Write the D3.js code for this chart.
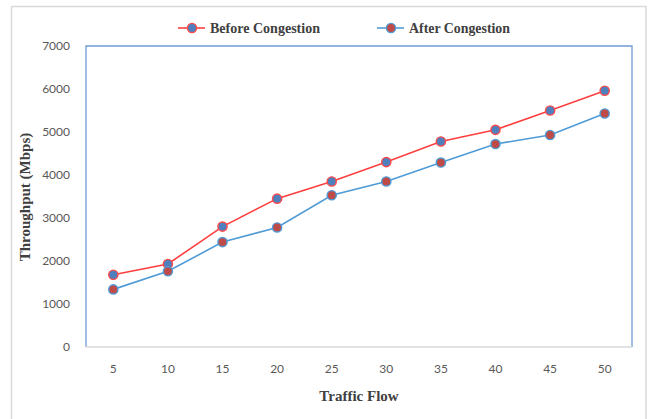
<!DOCTYPE html>
<html>
<head>
<meta charset="utf-8">
<script src="https://cdn.jsdelivr.net/npm/d3@7/dist/d3.min.js"></script>
<style>
  html, body { margin: 0; padding: 0; background: #fff; }
  svg { display: block; }
</style>
</head>
<body>
<svg id="chart" width="649" height="419"></svg>
<script>
const categories = ["5", "10", "15", "20", "25", "30", "35", "40", "45", "50"];
const beforeValues = [1680, 1930, 2800, 3450, 3850, 4300, 4780, 5050, 5500, 5960];
const afterValues = [1340, 1760, 2440, 2780, 3530, 3850, 4290, 4720, 4930, 5430];
const yTicks = [0, 1000, 2000, 3000, 4000, 5000, 6000, 7000];
const seriesNames = ["Before Congestion", "After Congestion"];

const svg = d3.select("#chart");
const W = 649, H = 419;
const plot = { left: 86, top: 46, right: 632, bottom: 347 };

// outer chart frame
svg.append("rect")
  .attr("x", 11.5).attr("y", 6.5)
  .attr("width", 634.5).attr("height", 430)
  .attr("fill", "#fff").attr("stroke", "#d9d9d9").attr("stroke-width", 1.5);

const x = d3.scaleBand().domain(categories).range([plot.left, plot.right]);
const y = d3.scaleLinear().domain([0, 7000]).range([plot.bottom, plot.top]);

// plot border: blue left/top/right, gray bottom
const g = svg.append("g");
g.append("path")
  .attr("d", `M${plot.left},${plot.bottom} V${plot.top} H${plot.right} V${plot.bottom}`)
  .attr("fill", "none").attr("stroke", "#6f9bd4").attr("stroke-width", 1.3);
g.append("line")
  .attr("x1", plot.left).attr("x2", plot.right)
  .attr("y1", plot.bottom).attr("y2", plot.bottom)
  .attr("stroke", "#d9d9d9").attr("stroke-width", 1.5);

// y axis labels
const yAxis = d3.axisLeft(y).tickValues(yTicks).tickSize(0).tickPadding(16).tickFormat(d3.format("d"));
svg.append("g").attr("transform", `translate(${plot.left},0)`).call(yAxis)
  .call(s => s.select(".domain").remove())
  .selectAll("text")
  .attr("font-family", "Lato, 'Open Sans', sans-serif")
  .attr("font-size", 12).attr("fill", "#595959");

// x axis labels
const xAxis = d3.axisBottom(x).tickSize(0).tickPadding(17);
svg.append("g").attr("transform", `translate(0,${plot.bottom})`).call(xAxis)
  .call(s => s.select(".domain").remove())
  .selectAll("text")
  .attr("font-family", "Lato, 'Open Sans', sans-serif")
  .attr("font-size", 12).attr("fill", "#595959");

// axis titles
svg.append("text")
  .attr("x", (plot.left + plot.right) / 2).attr("y", 401)
  .attr("text-anchor", "middle")
  .attr("font-family", "'Liberation Serif', 'Times New Roman', serif")
  .attr("font-weight", "bold").attr("font-size", 15).attr("fill", "#404040")
  .text("Traffic Flow");

svg.append("text")
  .attr("transform", `translate(30,197) rotate(-90)`)
  .attr("text-anchor", "middle")
  .attr("font-family", "'Liberation Serif', 'Times New Roman', serif")
  .attr("font-weight", "bold").attr("font-size", 15).attr("fill", "#404040")
  .text("Throughput (Mbps)");

const series = [
  { name: seriesNames[0], values: beforeValues, line: "#ff3f3f", fill: "#4f7fbd", stroke: "#ff4a4a" },
  { name: seriesNames[1], values: afterValues, line: "#4f9bd6", fill: "#be4b48", stroke: "#4f9bd6" }
];

const lineGen = d3.line()
  .x((d, i) => x(categories[i]) + x.bandwidth() / 2)
  .y(d => y(d));

series.forEach(s => {
  svg.append("path")
    .datum(s.values)
    .attr("d", lineGen)
    .attr("fill", "none").attr("stroke", s.line).attr("stroke-width", 1.6);
});
series.forEach(s => {
  svg.append("g").selectAll("circle")
    .data(s.values)
    .join("circle")
    .attr("cx", (d, i) => x(categories[i]) + x.bandwidth() / 2)
    .attr("cy", d => y(d))
    .attr("r", 4.6)
    .attr("fill", s.fill).attr("stroke", s.stroke).attr("stroke-width", 1.4);
});

// legend
const legendItems = [
  { s: series[0], x: 178 },
  { s: series[1], x: 377 }
];
legendItems.forEach(it => {
  const lg = svg.append("g").attr("transform", `translate(${it.x},28)`);
  lg.append("line").attr("x1", 0).attr("x2", 27).attr("y1", 0).attr("y2", 0)
    .attr("stroke", it.s.line).attr("stroke-width", 1.6);
  lg.append("circle").attr("cx", 14).attr("cy", 0).attr("r", 4.6)
    .attr("fill", it.s.fill).attr("stroke", it.s.stroke).attr("stroke-width", 1.4);
  lg.append("text").attr("x", 32).attr("y", 5)
    .attr("font-family", "'Liberation Serif', 'Times New Roman', serif")
    .attr("font-weight", "bold").attr("font-size", 14).attr("fill", "#404040")
    .attr("textLength", it.s.name.length > 16 ? 110 : 101)
    .attr("lengthAdjust", "spacingAndGlyphs")
    .text(it.s.name);
});
</script>
</body>
</html>
